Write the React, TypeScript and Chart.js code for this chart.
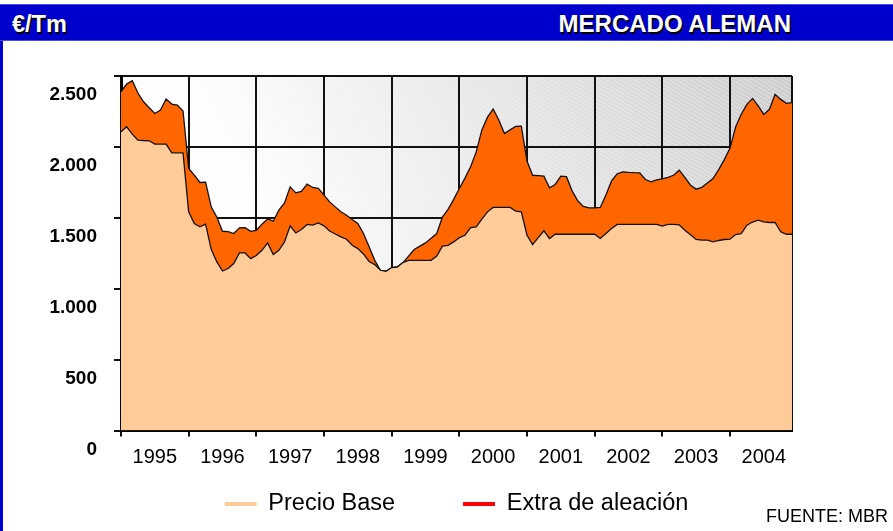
import React, { useEffect, useRef } from 'react';
import { Chart, registerables } from 'chart.js';

Chart.register(...registerables);

// ---- Data ----
const years = ['1995', '1996', '1997', '1998', '1999', '2000', '2001', '2002', '2003', '2004'];
const monthNames = ['ene', 'feb', 'mar', 'abr', 'may', 'jun', 'jul', 'ago', 'sep', 'oct', 'nov', 'dic'];
const monthCount = 120;
const categories = years.flatMap((y) => monthNames.map((m) => `${m} ${y}`)).slice(0, monthCount);

const seriesNames = ['Precio Base', 'Extra de aleación'];

// €/Tm, monthly
const precioBase = [
  2107, 2142, 2090, 2048, 2045, 2043, 2020, 2020, 2020, 1958, 1958, 1958,
  1542, 1460, 1436, 1455, 1278, 1189, 1125, 1142, 1177, 1252, 1252, 1212,
  1234, 1271, 1323, 1241, 1271, 1330, 1443, 1393, 1417, 1453, 1448, 1464,
  1443, 1407, 1386, 1365, 1349, 1306, 1283, 1245, 1192, 1170, 1130, 1123,
  1149, 1153, 1184, 1200, 1200, 1200, 1200, 1200, 1230, 1300, 1306, 1330,
  1360, 1377, 1431, 1436, 1490, 1542, 1573, 1573, 1573, 1573, 1547, 1542,
  1377, 1311, 1360, 1408, 1354, 1384, 1384, 1384, 1384, 1384, 1384, 1384,
  1384, 1354, 1389, 1425, 1453, 1453, 1453, 1453, 1453, 1453, 1453, 1453,
  1441, 1453, 1453, 1450, 1412, 1380, 1347, 1342, 1342, 1330, 1340, 1347,
  1349, 1382, 1389, 1448, 1470, 1483, 1472, 1467, 1467, 1401, 1384, 1384,
];

const extraAleacion = [
  282, 301, 377, 332, 273, 233, 216, 240, 318, 344, 337, 295,
  306, 341, 313, 296, 299, 315, 280, 261, 212, 177, 179, 193,
  178, 184, 169, 235, 283, 275, 275, 283, 269, 284, 266, 243,
  217, 205, 191, 177, 169, 182, 177, 144, 103, 30, 0, 0,
  0, 0, 0, 30, 76, 100, 123, 155, 159, 205, 254, 300,
  347, 403, 429, 529, 630, 668, 694, 617, 522, 547, 598, 605,
  523, 489, 438, 386, 357, 351, 410, 406, 306, 236, 196, 186,
  186, 219, 271, 335, 357, 371, 367, 365, 364, 317, 301, 315,
  334, 332, 347, 386, 373, 350, 355, 373, 403, 447, 500, 563,
  641, 758, 841, 852, 872, 807, 757, 798, 904, 934, 923, 928,
];

const yMin = 0;
const yMax = 2500;
const yStep = 500;

const fillColors = ['#FFCC99', '#FF6600'];
const legendColors = ['#FFCC99', '#FF0000'];

const FONT = "'Liberation Sans', Arial, Helvetica, sans-serif";

const CANVAS_W = 893;
const CANVAS_H = 572; // taller than the page; the extra strip is hidden
const LEGEND_PAD = 68;
const LEGEND_TEXT_Y = 504;
const LEGEND_FONT = 23.5;

function formatThousands(v: number): string {
  if (v >= 1000) {
    const th = Math.floor(v / 1000);
    const rest = String(v % 1000).padStart(3, '0');
    return `${th}.${rest}`;
  }
  return String(v);
}

const plotBackground = {
  id: 'plotBackground',
  beforeDraw(chart: any) {
    const { ctx, chartArea: a } = chart;
    if (!a) return;
    const w = a.right - a.left;
    const h = a.bottom - a.top;
    const g = ctx.createLinearGradient(a.left, a.bottom, a.right, a.top);
    g.addColorStop(0, '#ffffff');
    g.addColorStop(0.3, '#fdfdfd');
    g.addColorStop(0.62, '#e8e8e8');
    g.addColorStop(1, '#cdcdcd');
    ctx.save();
    ctx.fillStyle = g;
    ctx.fillRect(a.left, a.top, w, h);
    // faint diagonal hatching
    ctx.beginPath();
    ctx.rect(a.left, a.top, w, h);
    ctx.clip();
    ctx.strokeStyle = 'rgba(255,255,255,0.35)';
    ctx.lineWidth = 1;
    ctx.beginPath();
    for (let s = -h; s < w + h; s += 7) {
      ctx.moveTo(a.left + s, a.top);
      ctx.lineTo(a.left + s + h * 0.6, a.top + h * 0.35);
    }
    ctx.stroke();
    ctx.restore();
  },
};

// Move the legend row up so it sits where the reference has it
const legendPlacement = {
  id: 'legendPlacement',
  afterLayout(chart: any) {
    const lg = chart.legend;
    if (!lg) return;
    const wantedTop = LEGEND_TEXT_Y - LEGEND_PAD - LEGEND_FONT / 2;
    const dy = wantedTop - lg.top;
    lg.top += dy;
    lg.bottom += dy;
  },
};

function ChartCanvas() {
  const ref = useRef<HTMLCanvasElement | null>(null);

  useEffect(() => {
    if (!ref.current) return;
    const lastIndex = categories.length - 1;
    const chart = new Chart(ref.current, {
      type: 'line',
      data: {
        labels: categories,
        datasets: [
          {
            label: seriesNames[0],
            data: precioBase,
            backgroundColor: fillColors[0],
            borderColor: '#111111',
            borderWidth: 1.3,
            fill: 'origin',
            pointRadius: 0,
            tension: 0,
          },
          {
            label: seriesNames[1],
            data: extraAleacion,
            backgroundColor: fillColors[1],
            borderColor: '#111111',
            borderWidth: 1.3,
            fill: '-1',
            pointRadius: 0,
            tension: 0,
          },
        ],
      },
      options: {
        responsive: false,
        animation: false,
        events: [],
        layout: { padding: { left: 0, right: 101, top: 76, bottom: 0 } },
        plugins: {
          tooltip: { enabled: false },
          title: { display: false },
          legend: {
            display: true,
            position: 'bottom',
            fullSize: false,
            labels: {
              boxWidth: 32,
              boxHeight: 4,
              padding: LEGEND_PAD,
              color: '#000000',
              font: { family: FONT, size: LEGEND_FONT },
              generateLabels: () =>
                seriesNames.map((name, i) => ({
                  text: name,
                  fillStyle: legendColors[i],
                  strokeStyle: legendColors[i],
                  lineWidth: 0,
                  hidden: false,
                  datasetIndex: i,
                  fontColor: '#000000',
                })),
            },
          },
        },
        scales: {
          x: {
            type: 'category',
            offset: false,
            afterFit: (s: any) => {
              s.height = 40;
            },
            grid: {
              offset: false,
              drawOnChartArea: true,
              lineWidth: 2,
              color: (c: any) =>
                c.index % 12 === 0 || c.index === lastIndex ? '#111111' : 'rgba(0,0,0,0)',
              tickColor: (c: any) => (c.index % 12 === 0 ? '#111111' : 'rgba(0,0,0,0)'),
              tickLength: 6,
            },
            border: { display: true, color: '#000000', width: 3 },
            ticks: {
              autoSkip: false,
              maxRotation: 0,
              minRotation: 0,
              padding: 9,
              labelOffset: 33.8,
              color: '#000000',
              font: { family: FONT, size: 20 },
              callback: (_v: any, index: number) =>
                index % 12 === 0 ? years[index / 12] : '',
            },
          },
          y: {
            stacked: true,
            min: yMin,
            max: yMax,
            afterFit: (s: any) => {
              s.width = 121;
            },
            grid: {
              lineWidth: 2,
              color: '#111111',
              tickColor: '#111111',
              tickLength: 7,
            },
            border: { display: true, color: '#000000', width: 3 },
            ticks: {
              stepSize: yStep,
              padding: 17,
              labelOffset: 19,
              color: '#000000',
              font: { family: FONT, size: 19, weight: 'bold' },
              callback: (v: any) => formatThousands(Number(v)),
            },
          },
        },
      },
      plugins: [plotBackground, legendPlacement],
    } as any);
    return () => chart.destroy();
  }, []);

  return (
    <canvas
      ref={ref}
      width={CANVAS_W}
      height={CANVAS_H}
      style={{ position: 'absolute', left: 0, top: 0, width: CANVAS_W, height: CANVAS_H }}
    />
  );
}

export default function App() {
  return (
    <div
      style={{
        position: 'absolute',
        left: 0,
        top: 0,
        width: 893,
        height: 531,
        overflow: 'hidden',
        background: '#ffffff',
        fontFamily: FONT,
      }}
    >
      <ChartCanvas />
      <div
        style={{
          position: 'absolute',
          left: 0,
          top: 4,
          width: 893,
          height: 37,
          boxSizing: 'border-box',
          background: '#0000CC',
          borderTop: '1px solid #4a4aee',
          borderBottom: '1px solid #4a4aee',
        }}
      />
      <div
        style={{
          position: 'absolute',
          left: 0,
          top: 41,
          width: 3,
          height: 490,
          background: '#0000CC',
        }}
      />
      <div
        style={{
          position: 'absolute',
          left: 12,
          top: 11,
          color: '#ffffff',
          fontWeight: 'bold',
          fontSize: 23.5,
          whiteSpace: 'nowrap',
          textShadow: '1.5px 1.5px 0 #000000',
        }}
      >
        €/Tm
      </div>
      <div
        style={{
          position: 'absolute',
          right: 102,
          top: 10,
          color: '#ffffff',
          fontWeight: 'bold',
          fontSize: 24,
          whiteSpace: 'nowrap',
          textShadow: '1.5px 1.5px 0 #000000',
        }}
      >
        MERCADO ALEMAN
      </div>
      <div
        style={{
          position: 'absolute',
          left: 766,
          top: 506,
          color: '#000000',
          fontSize: 18,
          whiteSpace: 'nowrap',
        }}
      >
        FUENTE: MBR
      </div>
    </div>
  );
}
